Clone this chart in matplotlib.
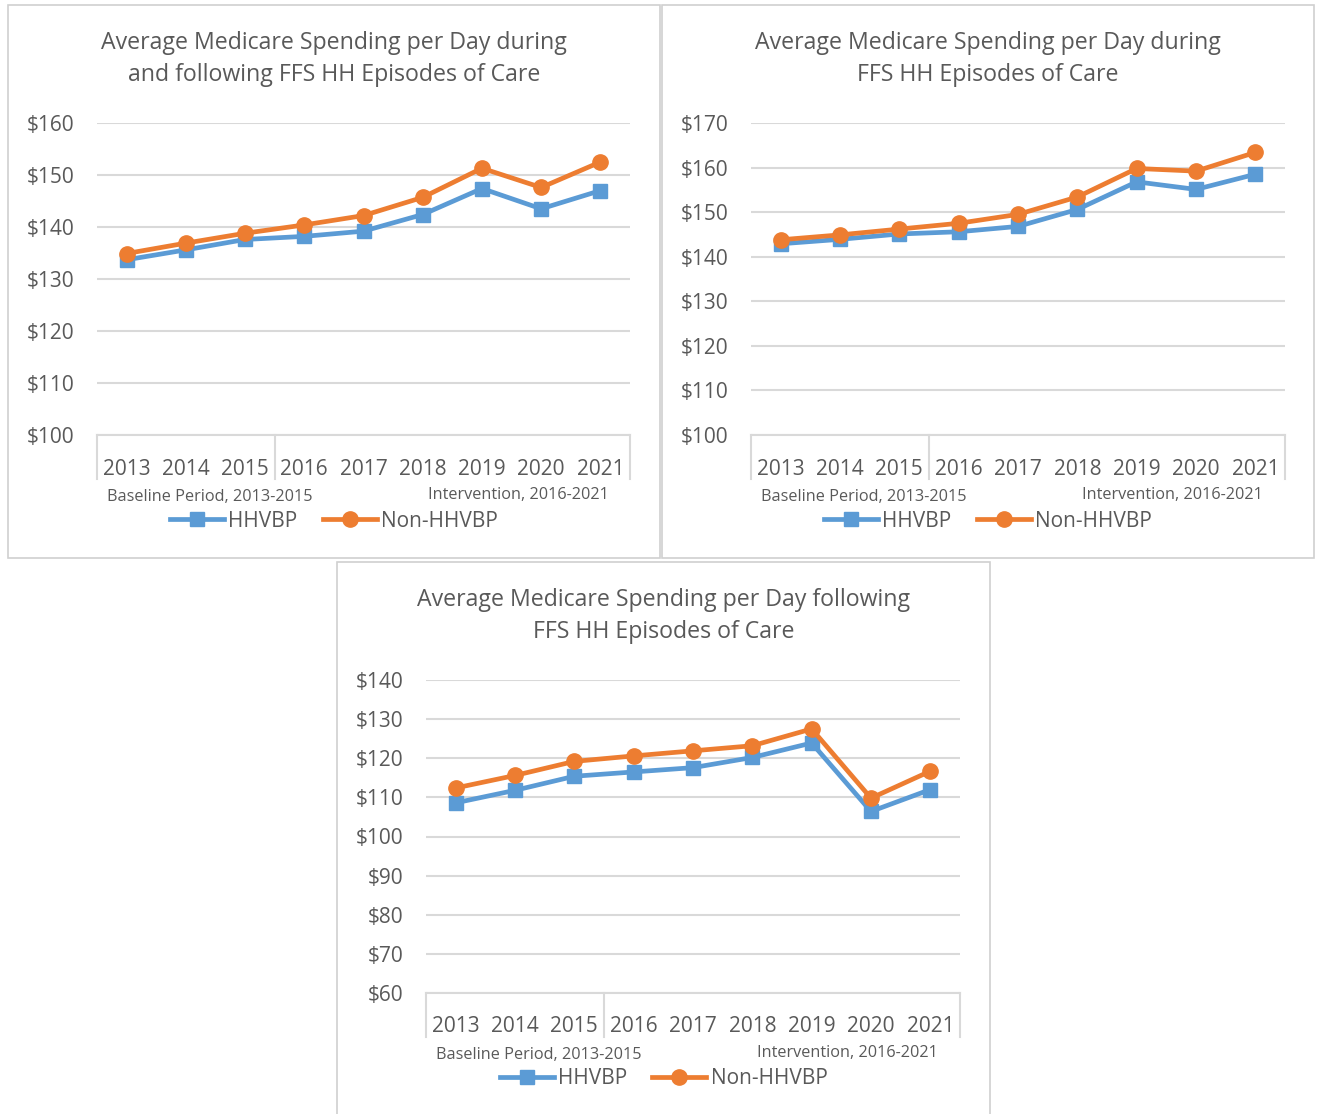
import matplotlib
matplotlib.use("Agg")
import matplotlib.pyplot as plt
from matplotlib.lines import Line2D
from matplotlib.patches import Rectangle

years = ["2013", "2014", "2015", "2016", "2017", "2018", "2019", "2020", "2021"]

# Panel 1: during and following
p1_hhvbp = [133.7, 135.6, 137.6, 138.2, 139.2, 142.4, 147.4, 143.5, 147.0]
p1_non = [134.9, 136.9, 138.8, 140.4, 142.2, 145.7, 151.3, 147.6, 152.5]
p1_ticks = [100, 110, 120, 130, 140, 150, 160]

# Panel 2: during
p2_hhvbp = [142.9, 143.9, 145.1, 145.6, 146.8, 150.6, 156.8, 155.1, 158.5]
p2_non = [143.8, 144.9, 146.2, 147.5, 149.5, 153.4, 159.8, 159.2, 163.4]
p2_ticks = [100, 110, 120, 130, 140, 150, 160, 170]

# Panel 3: following
p3_hhvbp = [108.6, 111.8, 115.4, 116.5, 117.6, 120.2, 123.9, 106.4, 112.0]
p3_non = [112.4, 115.6, 119.2, 120.6, 121.9, 123.2, 127.5, 109.8, 116.7]
p3_ticks = [60, 70, 80, 90, 100, 110, 120, 130, 140]

titles = [
    "Average Medicare Spending per Day during\nand following FFS HH Episodes of Care",
    "Average Medicare Spending per Day during\nFFS HH Episodes of Care",
    "Average Medicare Spending per Day following\nFFS HH Episodes of Care",
]
group_labels = ["Baseline Period, 2013-2015", "Intervention, 2016-2021"]
series_names = ["HHVBP", "Non-HHVBP"]

W, H = 1317, 1114
BLUE = "#5B9BD5"
ORANGE = "#ED7D31"
TXT = "#595959"
GRID = "#d9d9d9"
FONT = ["Open Sans", "DejaVu Sans"]
plt.rcParams["font.family"] = FONT

fig = plt.figure(figsize=(W / 100, H / 100), dpi=100)
fig.patch.set_facecolor("white")


def fx(x):
    return x / W


def fy(y):
    return 1 - y / H


# panel borders (x0, y0, x1, y1) in pixels
panels = [(8, 5, 660, 558), (662, 5, 1314, 558), (337, 562, 990, 1118)]
for (x0, y0, x1, y1) in panels:
    fig.patches.append(Rectangle((fx(x0), fy(y1)), fx(x1 - x0), (y1 - y0) / H,
                                 transform=fig.transFigure, fill=False,
                                 edgecolor="#d0d0d0", linewidth=1.2, zorder=0))

# axes rects: (left, top, right, bottom) in pixels
axes_px = [(97, 123, 630, 435), (751, 123, 1285, 435), (426, 680, 960, 993)]
data = [(p1_hhvbp, p1_non, p1_ticks), (p2_hhvbp, p2_non, p2_ticks), (p3_hhvbp, p3_non, p3_ticks)]

LW = 3.4
MS_SQ = 10.5
MS_CI = 11

for i, ((l, t, r, b), (hh, non, ticks), title, panel) in enumerate(zip(axes_px, data, titles, panels)):
    ax = fig.add_axes([fx(l), fy(b), fx(r - l), (b - t) / H])
    x = list(range(len(years)))
    ax.plot(x, hh, color=BLUE, lw=LW, marker="s", markersize=MS_SQ, label=series_names[0],
            solid_joinstyle="round", zorder=3, clip_on=False)
    ax.plot(x, non, color=ORANGE, lw=LW, marker="o", markersize=MS_CI, label=series_names[1],
            solid_joinstyle="round", zorder=4, clip_on=False)
    ax.set_xlim(-0.5, len(years) - 0.5)
    ax.set_ylim(ticks[0], ticks[-1])
    ax.set_yticks(ticks)
    ax.set_yticklabels([f"${v}" for v in ticks])
    ax.yaxis.grid(True, color=GRID, lw=1.5)
    ax.set_axisbelow(True)
    for s in ["top", "left", "right"]:
        ax.spines[s].set_visible(False)
    ax.spines["bottom"].set_color(GRID)
    ax.spines["bottom"].set_linewidth(1.5)
    ax.tick_params(axis="y", length=0, pad=16, labelsize=15, labelcolor=TXT)
    ax.set_xticks([])
    height_px = b - t
    # year labels
    for xi, yr in zip(x, years):
        ax.text(xi, -34 / height_px, yr, transform=ax.get_xaxis_transform(),
                ha="center", va="center", fontsize=15, color=TXT)
    # category separators
    for xs in [-0.5, 2.5, len(years) - 0.5]:
        ax.plot([xs, xs], [0, -44 / height_px], transform=ax.get_xaxis_transform(),
                color=GRID, lw=1.5, clip_on=False)
    ax.text(113 / (r - l), -62 / height_px, group_labels[0], transform=ax.transAxes,
            ha="center", va="center", fontsize=11.7, color=TXT)
    ax.text(421 / (r - l), -60 / height_px, group_labels[1], transform=ax.transAxes,
            ha="center", va="center", fontsize=11.7, color=TXT)
    # title
    pcx = (panel[0] + panel[2]) / 2
    fig.text(fx(pcx), fy(t - 64), title, ha="center", va="center", fontsize=16.7,
             color=TXT, linespacing=1.42)
    # legend
    handles = [Line2D([], [], color=BLUE, lw=LW, marker="s", markersize=MS_SQ),
               Line2D([], [], color=ORANGE, lw=LW, marker="o", markersize=MS_CI)]
    fig.legend(handles, series_names, loc="center", bbox_to_anchor=(fx(pcx), fy(b + 86)),
               ncol=2, frameon=False, fontsize=15, handlelength=2.6,
               handletextpad=0.2, columnspacing=1.2, labelcolor=TXT,
               borderaxespad=0, borderpad=0)

fig.savefig("out.png", dpi=100, facecolor="white")
